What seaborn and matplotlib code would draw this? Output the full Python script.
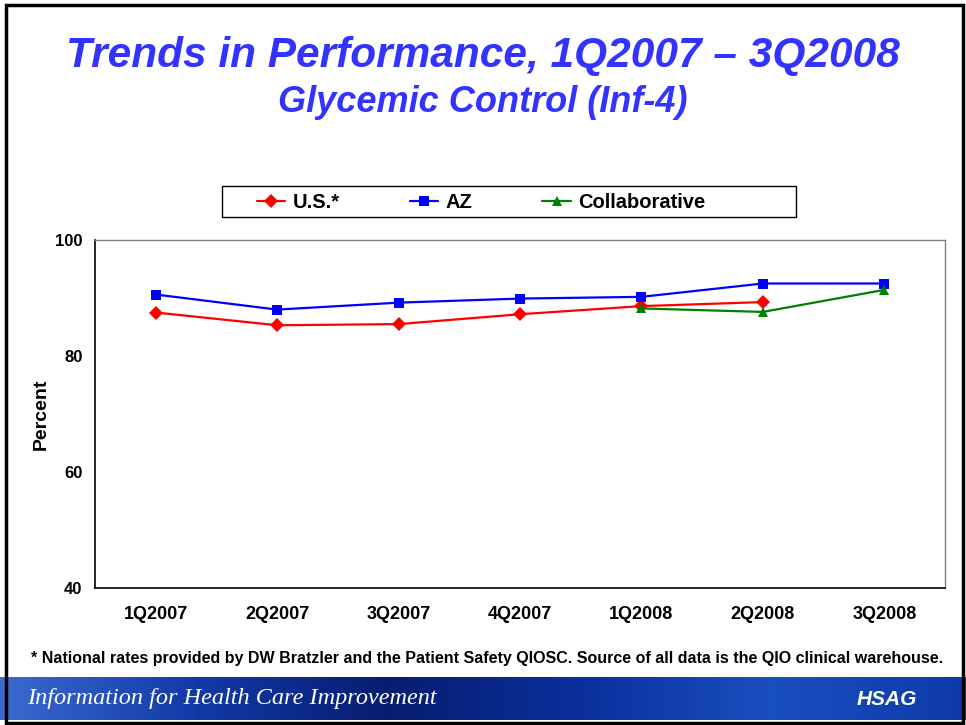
import numpy as np
import pandas as pd
import matplotlib
matplotlib.use("Agg")
import matplotlib.pyplot as plt
from matplotlib.patches import Rectangle
import seaborn as sns

# ─── Data ─────────────────────────────────────────────────────────────────────
quarters = ["1Q2007", "2Q2007", "3Q2007", "4Q2007", "1Q2008", "2Q2008", "3Q2008"]
us_vals = [87.5, 85.3, 85.5, 87.2, 88.6, 89.3, np.nan]
az_vals = [90.6, 88.0, 89.2, 89.9, 90.2, 92.5, 92.5]
collab_vals = [np.nan, np.nan, np.nan, np.nan, 88.2, 87.6, 91.4]
series_names = ["U.S.*", "AZ", "Collaborative"]
y_ticks = [40, 60, 80, 100]

title = "Trends in Performance, 1Q2007 \u2013 3Q2008"
subtitle = "Glycemic Control (Inf-4)"
footnote = ("* National rates provided by DW Bratzler and the Patient Safety QIOSC. "
            "Source of all data is the QIO clinical warehouse.")
banner_text = "Information for Health Care Improvement"

rows = []
for name, vals in zip(series_names, [us_vals, az_vals, collab_vals]):
    for i, v in enumerate(vals):
        rows.append({"idx": i, "value": v, "series": name})
df = pd.DataFrame(rows).dropna()

palette = {"U.S.*": "#FF0000", "AZ": "#0000FF", "Collaborative": "#008000"}
markers = {"U.S.*": "D", "AZ": "s", "Collaborative": "^"}

sns.set_style("white")
plt.rcParams["font.family"] = ["Liberation Sans", "DejaVu Sans"]
for key in ["text.color", "axes.labelcolor", "xtick.color", "ytick.color"]:
    plt.rcParams[key] = "black"

fig = plt.figure(figsize=(9.66, 7.25), dpi=100)
W, H = 966, 725

ax = fig.add_axes([95 / W, (H - 588) / H, 850 / W, 348 / H])
sns.lineplot(data=df, x="idx", y="value", hue="series", style="series",
             palette=palette, markers=markers, dashes=False, markersize=7.5,
             linewidth=1.6, markeredgewidth=0, ax=ax, legend=False,
             hue_order=series_names, style_order=series_names)

ax.set_xlim(-0.5, len(quarters) - 0.5)
ax.set_ylim(40, 100)
ax.set_yticks(y_ticks)
ax.set_yticklabels([str(t) for t in y_ticks], fontsize=12, fontweight="bold")
ax.set_xticks(range(len(quarters)))
ax.set_xticklabels(quarters, fontsize=13, fontweight="bold")
ax.set_xticks(np.arange(-0.5, len(quarters)), minor=True)
ax.tick_params(axis="x", which="major", length=0, pad=13)
ax.tick_params(axis="x", which="minor", length=5, width=1, color="black", direction="out")
ax.tick_params(axis="y", length=5, width=1, color="black", direction="out", pad=4)
ax.set_xlabel("")
ax.set_ylabel("Percent", fontsize=14, fontweight="bold", labelpad=4)
for side in ["left", "bottom"]:
    ax.spines[side].set_color("black")
    ax.spines[side].set_linewidth(1.2)
for side in ["top", "right"]:
    ax.spines[side].set_color("#808080")
    ax.spines[side].set_linewidth(1.0)

# legend: frameless entries, box drawn separately (Excel-style wide box)
handles = [plt.Line2D([], [], color=palette[n], marker=markers[n], markersize=7.5,
                      markeredgewidth=0, linewidth=1.6) for n in series_names]
fig.legend(handles, series_names, loc="center",
           bbox_to_anchor=(481 / W, 1 - 203 / H), ncol=3, frameon=False,
           columnspacing=3.5, handlelength=1.4, handletextpad=0.35,
           prop={"size": 14.5, "weight": "bold"})
fig.add_artist(Rectangle((222 / W, 1 - 217 / H), 574 / W, 31 / H,
                         transform=fig.transFigure, fill=False,
                         edgecolor="black", linewidth=1.0))

# titles
fig.text(0.5, 1 - 56 / H, title, ha="center", va="center", color="#3333FF",
         fontsize=30.5, fontweight="bold", fontstyle="italic")
fig.text(0.5, 1 - 102 / H, subtitle, ha="center", va="center", color="#3333FF",
         fontsize=26, fontweight="bold", fontstyle="italic")

# footnote
fig.text(487 / W, 1 - 658 / H, footnote, ha="center", va="center",
         fontsize=11.5, fontweight="bold", color="black")

# banner
bax = fig.add_axes([0, 5 / H, 1, 43 / H])
grad = np.linspace(0, 1, 256)
cmap = matplotlib.colors.LinearSegmentedColormap.from_list(
    "banner", ["#3a6ad0", "#123aa8", "#071d70", "#0a2f9c", "#1a4fc0", "#0d3aa8"])
bax.imshow(grad[np.newaxis, :], aspect="auto", cmap=cmap, extent=[0, 1, 0, 1])
bax.set_xlim(0, 1)
bax.set_ylim(0, 1)
bax.axis("off")
bax.text(0.028, 0.5, banner_text, color="white", fontsize=17.5, fontstyle="italic",
         family=["Liberation Serif", "DejaVu Serif"], va="center", ha="left")
bax.text(0.918, 0.48, "HSAG", color="white", fontsize=15, fontweight="bold",
         fontstyle="italic", va="center", ha="center")

# slide border
fig.add_artist(Rectangle((6 / W, 2 / H), 1 - 9 / W, 1 - 7 / H, transform=fig.transFigure,
                         fill=False, edgecolor="black", linewidth=2.5))

fig.savefig("out.png", dpi=100)
